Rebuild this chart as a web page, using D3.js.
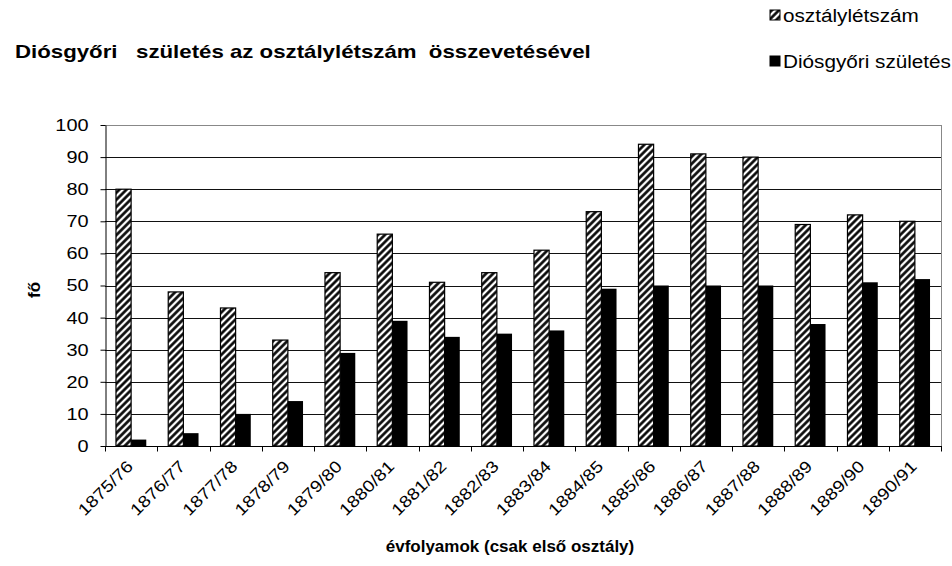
<!DOCTYPE html>
<html>
<head>
<meta charset="utf-8">
<script src="https://cdn.jsdelivr.net/npm/d3@7"></script>
<style>
  body { margin: 0; background: #fff; }
  svg { display: block; font-family: Arial, "Liberation Sans", sans-serif; }
</style>
</head>
<body>
<svg id="chart"></svg>
<script>
const years = ["1875/76", "1876/77", "1877/78", "1878/79", "1879/80", "1880/81", "1881/82", "1882/83",
  "1883/84", "1884/85", "1885/86", "1886/87", "1887/88", "1888/89", "1889/90", "1890/91"];
const classSize = [80, 48, 43, 33, 54, 66, 51, 54, 61, 73, 94, 91, 90, 69, 72, 70];
const births = [2, 4, 10, 14, 29, 39, 34, 35, 36, 49, 50, 50, 50, 38, 51, 52];
const yTicks = [0, 10, 20, 30, 40, 50, 60, 70, 80, 90, 100];
const seriesNames = ["osztálylétszám", "Diósgyőri születés"];

const width = 952, height = 566;
const margin = { top: 125, right: 11, bottom: 120, left: 105 };

const svg = d3.select("#chart").attr("width", width).attr("height", height);

// the reference text is wider than Arial, stretch it a bit
function widen(k) {
  return (sel) => sel.each(function () {
    const w = this.getComputedTextLength();
    d3.select(this).attr("textLength", w * k).attr("lengthAdjust", "spacingAndGlyphs");
  });
}

const defs = svg.append("defs");
const hatch = defs.append("pattern")
  .attr("id", "hatch")
  .attr("patternUnits", "userSpaceOnUse")
  .attr("width", 5).attr("height", 5)
  .attr("patternTransform", "rotate(45)");
hatch.append("rect").attr("width", 5).attr("height", 5).attr("fill", "#fff");
hatch.append("line").attr("x1", 1.5).attr("y1", 0).attr("x2", 1.5).attr("y2", 5)
  .attr("stroke", "#000").attr("stroke-width", 2.6);

const x = d3.scaleBand()
  .domain(years)
  .range([margin.left, width - margin.right])
  .paddingInner(0.42)
  .paddingOuter(0.21);

const y = d3.scaleLinear()
  .domain([0, 100])
  .range([height - margin.bottom, margin.top]);

// gridlines
svg.append("g")
  .selectAll("line")
  .data(yTicks.filter(d => d > 0))
  .join("line")
  .attr("x1", margin.left).attr("x2", width - margin.right)
  .attr("y1", d => Math.round(y(d)) + 0.5).attr("y2", d => Math.round(y(d)) + 0.5)
  .attr("stroke", (d) => d === 100 ? "#888" : "#111")
  .attr("stroke-width", 1);

// right border
svg.append("line")
  .attr("x1", width - margin.right + 0.5).attr("x2", width - margin.right + 0.5)
  .attr("y1", Math.round(y(100))).attr("y2", y(0))
  .attr("stroke", "#888");

const sub = d3.scaleBand().domain([0, 1]).range([0, x.bandwidth()]);

const groups = svg.append("g")
  .selectAll("g")
  .data(years)
  .join("g")
  .attr("transform", d => `translate(${x(d)},0)`);

groups.append("rect")
  .attr("x", sub(0))
  .attr("y", (d, i) => y(classSize[i]))
  .attr("width", sub.bandwidth())
  .attr("height", (d, i) => y(0) - y(classSize[i]))
  .attr("fill", "url(#hatch)")
  .attr("stroke", "#000")
  .attr("stroke-width", 1.2);

groups.append("rect")
  .attr("x", sub(1))
  .attr("y", (d, i) => y(births[i]))
  .attr("width", sub.bandwidth())
  .attr("height", (d, i) => y(0) - y(births[i]))
  .attr("fill", "#000");

// y axis
const yAxis = svg.append("g")
  .attr("transform", `translate(${margin.left + 0.5},0)`)
  .call(d3.axisLeft(y).tickValues(yTicks).tickSize(5).tickSizeOuter(0));
yAxis.select(".domain").attr("stroke", "#000");
yAxis.selectAll(".tick line").attr("stroke", "#000");
yAxis.selectAll(".tick text")
  .attr("font-size", 17)
  .attr("font-family", "Arial, 'Liberation Sans', sans-serif")
  .attr("fill", "#000")
  .attr("x", -17)
  .call(widen(1.17));

// x axis line and ticks between categories
const base = Math.round(y(0)) + 0.5;
svg.append("line")
  .attr("x1", margin.left).attr("x2", width - margin.right + 1)
  .attr("y1", base).attr("y2", base)
  .attr("stroke", "#000");
const boundaries = d3.range(years.length + 1).map(i => margin.left + (width - margin.right - margin.left) * i / years.length);
svg.append("g")
  .selectAll("line")
  .data(boundaries)
  .join("line")
  .attr("x1", d => Math.round(d) + 0.5).attr("x2", d => Math.round(d) + 0.5)
  .attr("y1", base).attr("y2", base + 5)
  .attr("stroke", "#000");

// x labels
svg.append("g")
  .selectAll("text")
  .data(years)
  .join("text")
  .attr("transform", d => `translate(${x(d) + x.bandwidth() / 2 + 3},${base + 21}) rotate(-45)`)
  .attr("text-anchor", "end")
  .attr("font-size", 16.5)
  .attr("fill", "#000")
  .text(d => d)
  .call(widen(1.17));

// title
svg.append("text")
  .attr("x", 15).attr("y", 58)
  .attr("font-size", 19)
  .attr("font-weight", "bold")
  .style("white-space", "pre")
  .text("Diósgyőri   születés az osztálylétszám  összevetésével")
  .call(widen(1.17));

// axis titles
svg.append("text")
  .attr("transform", `translate(40,290) rotate(-90)`)
  .attr("text-anchor", "middle")
  .attr("font-size", 17)
  .attr("font-weight", "bold")
  .text("fő");

svg.append("text")
  .attr("x", 510).attr("y", 552)
  .attr("text-anchor", "middle")
  .attr("font-size", 17)
  .attr("font-weight", "bold")
  .text("évfolyamok (csak első osztály)");

// legend
const legend = svg.append("g")
  .selectAll("g")
  .data(seriesNames)
  .join("g")
  .attr("transform", (d, i) => `translate(770,${10 + i * 46})`);
legend.append("rect")
  .attr("width", 10).attr("height", 10)
  .attr("fill", (d, i) => i === 0 ? "url(#hatch)" : "#000")
  .attr("stroke", "#000");
legend.append("text")
  .attr("x", 13).attr("y", 12)
  .attr("font-size", 18)
  .text(d => d)
  .call(widen(1.15));
</script>
</body>
</html>
